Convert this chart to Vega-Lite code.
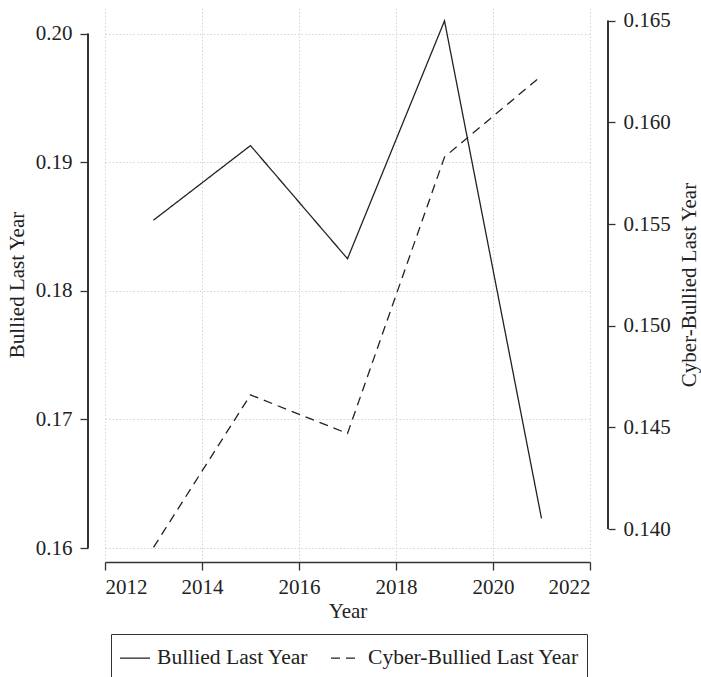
{
  "$schema": "https://vega.github.io/schema/vega-lite/v6.json",
  "width": 485,
  "height": 553,
  "autosize": {"type": "none"},
  "padding": {"left": 105, "top": 8, "right": 111, "bottom": 116},
  "background": "white",
  "config": {
    "font": "Liberation Serif",
    "view": {"stroke": null},
    "axis": {
      "labelFont": "Liberation Serif",
      "titleFont": "Liberation Serif",
      "labelFontSize": 21,
      "titleFontSize": 21,
      "labelColor": "#222222",
      "titleColor": "#222222",
      "titleFontWeight": "normal",
      "domainColor": "#333333",
      "domainWidth": 1.3,
      "tickColor": "#333333",
      "tickWidth": 1.3,
      "gridColor": "#d4d4d4",
      "gridDash": [1.5, 2],
      "gridWidth": 1
    }
  },
  "data": {
    "values": [
      {"year": 2013, "bullied": 0.1855, "cyber": 0.1391},
      {"year": 2015, "bullied": 0.1913, "cyber": 0.1466},
      {"year": 2017, "bullied": 0.1825, "cyber": 0.1447},
      {"year": 2019, "bullied": 0.2010, "cyber": 0.1583},
      {"year": 2021, "bullied": 0.1623, "cyber": 0.1623}
    ]
  },
  "layer": [
    {
      "mark": {"type": "line", "color": "#222222", "strokeWidth": 1.3},
      "encoding": {
        "x": {
          "field": "year",
          "type": "quantitative",
          "scale": {"domain": [2012, 2022], "nice": false, "zero": false},
          "axis": {
            "values": [2012, 2014, 2016, 2018, 2020, 2022],
            "format": "d",
            "title": "Year",
            "offset": 1,
            "tickSize": 8,
            "labelPadding": 6,
            "titlePadding": 3,
            "grid": true
          }
        },
        "y": {
          "field": "bullied",
          "type": "quantitative",
          "scale": {"domain": [0.15899, 0.2020], "nice": false, "zero": false},
          "axis": {
            "orient": "left",
            "values": [0.16, 0.17, 0.18, 0.19, 0.20],
            "format": ".2f",
            "offset": 17,
            "domain": false,
            "tickSize": 8,
            "labelPadding": 8,
            "title": "Bullied Last Year",
            "titlePadding": 8,
            "grid": true
          }
        },
        "strokeDash": {
          "datum": "Bullied Last Year",
          "type": "nominal",
          "scale": {
            "domain": ["Bullied Last Year", "Cyber-Bullied Last Year"],
            "range": [[1, 0], [9, 6]]
          },
          "legend": {
            "title": null,
            "orient": "none",
            "legendX": 6,
            "legendY": 626,
            "direction": "horizontal",
            "strokeColor": "#333333",
            "padding": 8,
            "symbolType": "stroke",
            "symbolSize": 900,
            "symbolStrokeColor": "#222222",
            "symbolStrokeWidth": 1.3,
            "labelFont": "Liberation Serif",
            "labelFontSize": 21.6,
            "labelColor": "#222222",
            "labelLimit": 400,
            "labelOffset": 6,
            "columnPadding": 19
          }
        }
      }
    },
    {
      "mark": {"type": "line", "color": "#222222", "strokeWidth": 1.3},
      "encoding": {
        "x": {"field": "year", "type": "quantitative"},
        "y": {
          "field": "cyber",
          "type": "quantitative",
          "scale": {"domain": [0.13843, 0.16563], "nice": false, "zero": false},
          "axis": {
            "orient": "right",
            "values": [0.140, 0.145, 0.150, 0.155, 0.160, 0.165],
            "format": ".3f",
            "offset": 18,
            "domain": false,
            "tickSize": 7,
            "labelPadding": 8,
            "title": "Cyber-Bullied Last Year",
            "titleAngle": 270,
            "titleBaseline": "top",
            "titlePadding": 8,
            "grid": false
          }
        },
        "strokeDash": {"datum": "Cyber-Bullied Last Year", "type": "nominal"}
      }
    },
    {
      "mark": {"type": "rule", "color": "#333333", "strokeWidth": 1.3, "xOffset": -17},
      "encoding": {
        "x": {"datum": 2012, "type": "quantitative"},
        "y": {"datum": 0.16, "type": "quantitative", "scale": {"domain": [0.15899, 0.2020], "nice": false, "zero": false}, "axis": null},
        "y2": {"datum": 0.20}
      }
    },
    {
      "mark": {"type": "rule", "color": "#333333", "strokeWidth": 1.3, "xOffset": 18},
      "encoding": {
        "x": {"datum": 2022, "type": "quantitative"},
        "y": {"datum": 0.140, "type": "quantitative", "scale": {"domain": [0.13843, 0.16563], "nice": false, "zero": false}, "axis": null},
        "y2": {"datum": 0.165}
      }
    }
  ],
  "resolve": {"scale": {"y": "independent"}, "axis": {"y": "independent"}}
}
